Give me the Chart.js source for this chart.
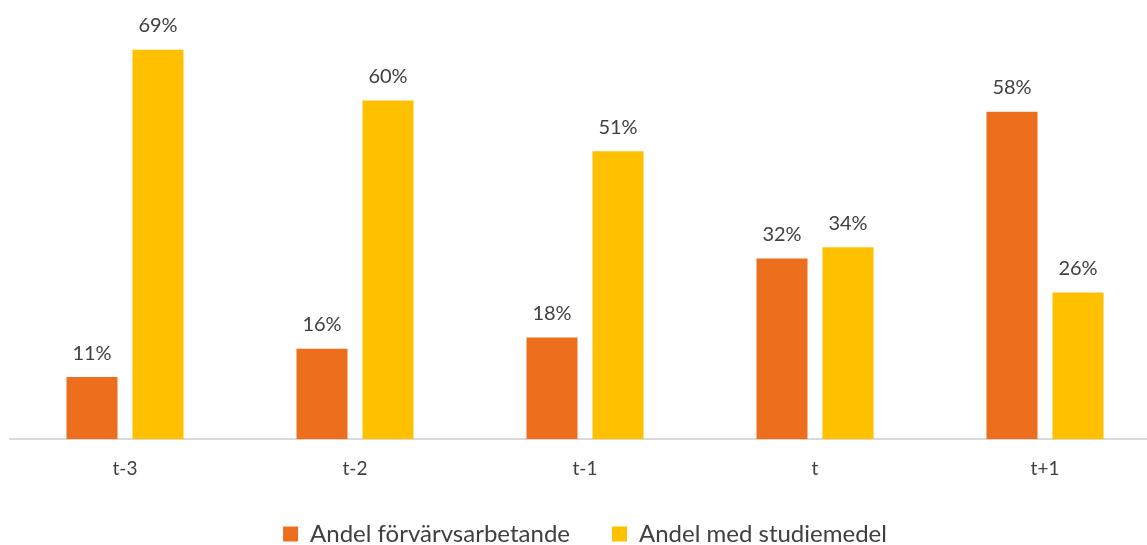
<!DOCTYPE html>
<html><head><meta charset="utf-8">
<script src="https://cdn.jsdelivr.net/npm/chart.js@4/dist/chart.umd.min.js"></script>
<style>
html,body{margin:0;padding:0;overflow:hidden;background:#fff;width:1147px;height:545px}
#wrap{width:1182px;height:545px;position:relative}
</style></head><body>
<div id="wrap"><canvas id="c"></canvas></div>
<script>
const categories = ['t-3','t-2','t-1','t','t+1'];
const seriesNames = ['Andel förvärvsarbetande','Andel med studiemedel'];
const forvarvs = [11,16,18,32,58];
const studiemedel = [69,60,51,34,26];
const colors = ['#ED6E1D','#FFC000'];
const textColor = '#404040';
const fontFamily = 'Lato, "Open Sans", sans-serif';

const labelPlugin = {
  id:'barLabels',
  afterDatasetsDraw(chart){
    const ctx = chart.ctx;
    ctx.save();
    ctx.font = '20px ' + fontFamily;
    ctx.fillStyle = textColor;
    ctx.textAlign = 'center';
    ctx.textBaseline = 'bottom';
    chart.data.datasets.forEach((ds,i)=>{
      chart.getDatasetMeta(i).data.forEach((bar,j)=>{
        ctx.fillText(ds.data[j] + '%', bar.x, bar.y - 14);
      });
    });
    ctx.restore();
  }
};

new Chart(document.getElementById('c'),{
  type:'bar',
  data:{
    labels:categories,
    datasets:[
      {label:seriesNames[0],data:forvarvs,backgroundColor:colors[0]},
      {label:seriesNames[1],data:studiemedel,backgroundColor:colors[1]}
    ]
  },
  options:{
    responsive:true,maintainAspectRatio:false,animation:false,
    layout:{padding:{top:44,left:10,right:22,bottom:-11}},
    datasets:{bar:{barPercentage:0.773,categoryPercentage:0.574}},
    scales:{
      x:{grid:{display:false},border:{color:'#d9d9d9',width:2},
         ticks:{color:textColor,font:{family:fontFamily,size:19},padding:10},
         afterFit(scale){scale.height -= 10;}},
      y:{display:false,min:0,max:70}
    },
    plugins:{
      legend:{position:'bottom',labels:{color:textColor,font:{family:fontFamily,size:24},boxWidth:15,boxHeight:15,padding:42,useBorderRadius:false}},
      tooltip:{enabled:false}
    }
  },
  plugins:[labelPlugin]
});
</script></body></html>
